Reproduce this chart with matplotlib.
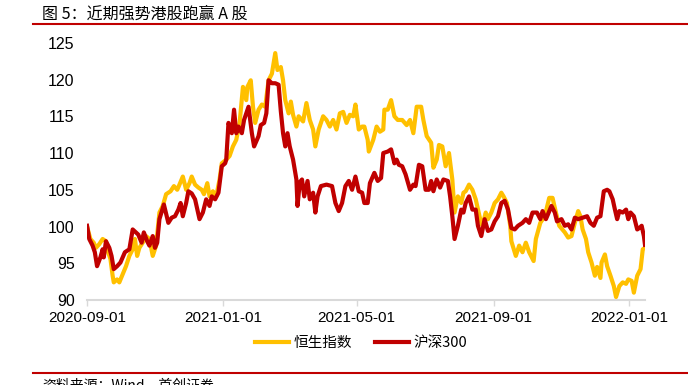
import numpy as np
import pandas as pd
import matplotlib
matplotlib.use("Agg")
import matplotlib.pyplot as plt
import matplotlib.dates as mdates
from matplotlib.lines import Line2D

plt.rcParams['font.family'] = ['Noto Sans CJK SC', 'DejaVu Sans']

start = pd.Timestamp('2020-09-01')

# 恒生指数 (normalised, 2020-09-01 = 100): day offset, value
hsi_day = [0, 3, 6, 8, 11, 14, 17, 18, 21, 23, 24, 27, 29, 32, 35, 38, 41, 43, 45, 47,
           50, 53, 56, 59, 62, 65, 68, 71, 75, 78, 81, 83, 86, 89, 92, 94, 97, 100, 103, 105,
           108, 110, 113, 116, 119, 121, 125, 128, 131, 134, 137, 140, 143, 144, 147, 149, 151, 154, 157, 160,
           163, 166, 169, 171, 174, 176, 178, 181, 183, 185, 188, 190, 194, 197, 200, 203, 205, 208, 212, 215,
           218, 221, 224, 227, 230, 233, 236, 239, 241, 244, 247, 249, 252, 253, 257, 260, 263, 266, 267, 270,
           273, 276, 279, 283, 287, 290, 293, 296, 300, 302, 305, 309, 311, 314, 316, 319, 322, 325, 328, 330,
           333, 336, 338, 340, 343, 346, 349, 353, 355, 358, 360, 363, 366, 369, 372, 374, 377, 380, 381, 385,
           388, 391, 394, 397, 401, 403, 407, 411, 415, 418, 421, 424, 429, 432, 435, 438, 441, 443, 445, 448,
           450, 453, 456, 458, 461, 462, 465, 467, 470, 473, 475, 478, 481, 484, 486, 489, 491, 494, 497, 499,
           501]
hsi_val = [100.0, 98.3, 97.8, 97.1, 97.6, 98.3, 98.0, 96.9, 95.6, 93.3, 92.4, 92.8, 92.4, 93.5, 94.6, 96.0, 96.9, 98.3, 96.0, 97.1,
           97.8, 98.7, 98.3, 96.0, 97.4, 101.9, 102.8, 104.4, 104.8, 105.5, 105.0, 105.7, 106.8, 105.0, 105.9, 106.8, 105.7, 105.3, 105.0, 104.4,
           105.9, 104.1, 104.8, 104.1, 106.4, 108.6, 109.1, 109.6, 110.9, 111.8, 114.1, 119.0, 117.2, 119.0, 119.9, 116.3, 114.1, 115.9, 116.6, 116.3,
           119.9, 120.8, 123.6, 121.3, 121.7, 119.9, 117.2, 115.4, 117.0, 115.2, 113.6, 115.0, 114.3, 116.8, 114.5, 113.2, 110.9, 113.2, 115.0, 114.5,
           113.6, 114.5, 113.2, 115.4, 115.6, 114.1, 115.2, 115.0, 116.6, 113.2, 113.6, 113.6, 111.8, 110.2, 111.8, 113.6, 112.9, 113.2, 115.9, 115.9,
           117.2, 115.0, 114.5, 114.5, 113.8, 114.5, 112.7, 116.3, 116.3, 114.5, 112.3, 111.4, 108.0, 109.1, 111.1, 110.9, 108.2, 110.0, 106.4, 101.9,
           104.1, 103.2, 104.6, 104.8, 105.7, 105.0, 103.7, 101.0, 100.1, 101.9, 101.0, 101.9, 103.2, 103.7, 104.6, 104.1, 103.2, 100.1, 98.0, 96.0,
           97.4, 96.5, 97.8, 96.5, 95.3, 98.3, 100.5, 101.4, 103.9, 103.9, 101.9, 100.1, 99.2, 98.5, 98.7, 100.5, 102.1, 101.4, 99.6, 98.3,
           96.5, 95.1, 93.3, 94.5, 93.0, 95.1, 96.2, 94.6, 93.3, 91.9, 90.4, 91.9, 92.4, 92.2, 92.8, 92.6, 91.0, 93.3, 94.2, 96.9,
           97.1]

# 沪深300 (normalised, 2020-09-01 = 100): day offset, value
csi_day = [0, 2, 5, 7, 9, 12, 14, 15, 17, 20, 22, 24, 27, 30, 34, 38, 41, 46, 49, 51,
           54, 56, 59, 61, 63, 65, 69, 73, 76, 79, 82, 84, 86, 89, 91, 94, 97, 101, 104, 107,
           110, 112, 115, 118, 121, 124, 125, 127, 130, 132, 134, 136, 139, 141, 145, 148, 150, 154, 156, 159,
           161, 163, 166, 169, 172, 174, 176, 178, 180, 182, 185, 188, 189, 191, 193, 195, 198, 200, 203, 205,
           207, 210, 215, 220, 223, 226, 229, 232, 235, 238, 241, 244, 247, 249, 252, 254, 258, 261, 264, 266,
           270, 273, 276, 278, 280, 283, 286, 290, 293, 295, 298, 301, 304, 307, 309, 311, 314, 317, 320, 324,
           326, 328, 330, 333, 336, 338, 340, 343, 346, 349, 351, 354, 357, 360, 363, 366, 369, 372, 375, 378,
           381, 384, 387, 391, 394, 397, 400, 404, 407, 409, 412, 414, 417, 420, 422, 426, 429, 432, 435, 438,
           441, 445, 449, 452, 455, 458, 461, 464, 467, 469, 472, 474, 476, 478, 481, 484, 486, 488, 491, 494,
           496, 498, 500, 501]
csi_val = [100.1, 98.3, 97.4, 96.5, 94.6, 95.8, 96.9, 95.8, 98.0, 97.1, 96.0, 94.2, 94.6, 95.1, 96.5, 96.9, 99.6, 98.9, 97.8, 99.2,
           98.0, 97.4, 98.7, 97.1, 97.8, 101.0, 103.0, 100.5, 101.2, 101.4, 102.3, 103.2, 101.4, 103.2, 104.8, 104.5, 103.7, 101.0, 101.9, 103.7,
           102.8, 104.1, 103.7, 104.6, 108.2, 108.6, 109.1, 114.1, 112.7, 115.9, 112.7, 113.6, 112.7, 114.5, 116.3, 112.7, 110.9, 112.3, 113.8, 114.1,
           115.4, 119.9, 119.5, 119.5, 119.3, 115.7, 112.7, 110.9, 112.7, 110.9, 109.1, 106.4, 102.8, 106.0, 106.4, 104.1, 106.2, 103.7, 104.6, 101.9,
           104.1, 105.5, 105.7, 105.5, 103.2, 102.1, 103.2, 105.5, 106.2, 105.0, 106.8, 104.8, 104.6, 103.2, 103.2, 105.9, 107.3, 106.2, 106.6, 110.0,
           110.2, 110.5, 108.6, 109.1, 108.4, 108.2, 107.1, 105.0, 105.7, 105.5, 108.4, 108.2, 105.0, 105.0, 106.2, 104.8, 106.4, 105.3, 106.4, 106.2,
           104.1, 101.4, 98.3, 100.1, 102.3, 101.9, 103.2, 104.1, 102.3, 102.3, 100.1, 98.7, 101.0, 99.4, 99.6, 100.7, 101.4, 103.2, 103.5, 102.3,
           99.8, 99.6, 100.1, 100.5, 101.0, 100.5, 101.9, 101.9, 101.0, 102.1, 101.0, 101.7, 102.8, 101.9, 100.7, 101.0, 100.1, 100.3, 99.6, 101.2,
           101.0, 101.2, 101.4, 100.5, 100.1, 101.2, 101.4, 104.8, 105.0, 104.8, 103.7, 102.3, 101.0, 102.1, 101.9, 102.3, 101.0, 101.9, 101.4, 99.6,
           99.8, 100.1, 98.7, 97.5]

yticks = [90, 95, 100, 105, 110, 115, 120, 125]
xtick_dates = ['2020-09-01', '2021-01-01', '2021-05-01', '2021-09-01', '2022-01-01']

hsi_dates = start + pd.to_timedelta(hsi_day, unit='D')
csi_dates = start + pd.to_timedelta(csi_day, unit='D')

YELLOW = '#FFC000'
RED = '#C00000'

fig = plt.figure(figsize=(6.88, 3.85), dpi=100)
ax = fig.add_axes([0.1265, 0.2208, 0.811, 0.668])

ax.plot(hsi_dates, hsi_val, color=YELLOW, lw=3, solid_joinstyle='round', label='恒生指数')
ax.plot(csi_dates, csi_val, color=RED, lw=3, solid_joinstyle='round', label='沪深300')

ax.set_ylim(90, 125)
ax.set_yticks(yticks)
ax.set_xlim(start, pd.Timestamp('2022-01-15'))
ax.set_xticks(pd.to_datetime(xtick_dates))
ax.xaxis.set_major_formatter(mdates.DateFormatter('%Y-%m-%d'))

for s in ['left', 'right', 'top']:
    ax.spines[s].set_visible(False)
ax.spines['bottom'].set_color('#d9d9d9')
ax.spines['bottom'].set_linewidth(1.5)

tick_font = ['Liberation Sans Narrow', 'Liberation Sans', 'DejaVu Sans']
ax.tick_params(axis='y', length=0, pad=9)
ax.tick_params(axis='x', length=4, width=1, color='#d9d9d9', pad=4)
for lab in ax.get_yticklabels():
    lab.set_family(tick_font)
    lab.set_fontsize(11.5)
for lab in ax.get_xticklabels():
    lab.set_family(tick_font)
    lab.set_fontsize(11)

handles = [Line2D([0], [0], color=YELLOW, lw=3), Line2D([0], [0], color=RED, lw=3)]
fig.legend(handles, ['恒生指数', '沪深300'], loc='center', bbox_to_anchor=(0.525, 0.11),
           ncol=2, frameon=False, fontsize=10.5, handlelength=2.3, handletextpad=0.3,
           columnspacing=1.6)

# title and decorations
fig.text(0.061, 0.962, '图 5：近期强势港股跑赢 A 股', fontsize=11.5, va='center', ha='left')
fig.add_artist(Line2D([0.048, 1.0], [0.937, 0.937], color=RED, lw=1.5))
fig.add_artist(Line2D([0.048, 1.0], [0.031, 0.031], color=RED, lw=1.5))
fig.text(0.061, 0.0, '资料来源：Wind，首创证券', fontsize=10, style='italic', va='center', ha='left')

fig.savefig('out.png', dpi=100)
